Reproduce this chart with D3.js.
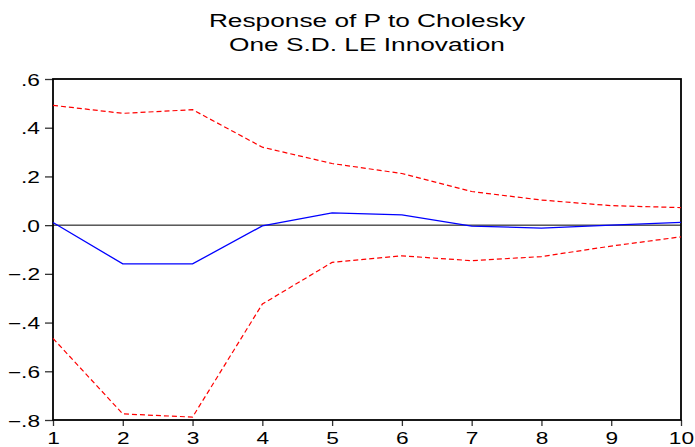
<!DOCTYPE html>
<html>
<head>
<meta charset="utf-8">
<script src="https://cdn.jsdelivr.net/npm/d3@7"></script>
<style>
  body { margin: 0; background: #fff; }
  svg { display: block; font-family: "Liberation Sans", Arial, sans-serif; }
</style>
</head>
<body>
<svg id="chart" width="695" height="447"></svg>
<script>
// data
const periods = [1, 2, 3, 4, 5, 6, 7, 8, 9, 10];
const response = [0.011, -0.159, -0.159, -0.003, 0.050, 0.042, -0.004, -0.012, 0.000, 0.011];
const upperBand = [0.492, 0.459, 0.474, 0.320, 0.253, 0.212, 0.138, 0.103, 0.080, 0.072];
const lowerBand = [-0.465, -0.775, -0.788, -0.324, -0.153, -0.126, -0.146, -0.129, -0.086, -0.048];
const yTicks = [0.6, 0.4, 0.2, 0.0, -0.2, -0.4, -0.6, -0.8];
const titleLines = ["Response of P to Cholesky", "One S.D. LE Innovation"];

const W = 695, H = 447;
const margin = { top: 79, right: 14, bottom: 27, left: 53 };
const stretch = 1.42; // text in the original is widened horizontally

const svg = d3.select("#chart");
const x = d3.scaleLinear().domain([1, 10]).range([margin.left, W - margin.right]);
const y = d3.scaleLinear().domain([-0.8, 0.6]).range([H - margin.bottom, margin.top]);

const fmt = v => d3.format(".1f")(v).replace("0.", ".");

// title
svg.selectAll("text.title")
  .data(titleLines)
  .join("text")
  .attr("class", "title")
  .attr("text-anchor", "middle")
  .attr("transform", (d, i) => `translate(${(margin.left + W - margin.right) / 2},${27 + i * 23.5}) scale(${stretch},1)`)
  .style("font-size", "18.5px")
  .text(d => d);

// zero line
svg.append("line")
  .attr("x1", x(1)).attr("x2", x(10))
  .attr("y1", y(0)).attr("y2", y(0))
  .attr("stroke", "#000").attr("stroke-width", 1);

// axes
const yAxis = svg.append("g")
  .attr("transform", `translate(${margin.left},0)`)
  .call(d3.axisLeft(y).tickValues(yTicks).tickFormat(fmt).tickSize(8).tickPadding(2));
const xAxis = svg.append("g")
  .attr("transform", `translate(0,${H - margin.bottom})`)
  .call(d3.axisBottom(x).tickValues(periods).tickFormat(d3.format("d")).tickSize(6).tickPadding(2));

[yAxis, xAxis].forEach(g => {
  g.select(".domain").remove();
  g.selectAll(".tick line").attr("stroke", "#333").attr("stroke-width", 1.3);
  g.selectAll("text").style("font-size", "16px").attr("fill", "#000");
});
yAxis.selectAll("text")
  .attr("x", null).attr("dy", null)
  .attr("transform", `translate(-13,6) scale(${stretch},1)`);
xAxis.selectAll("text")
  .attr("y", null).attr("dy", null)
  .attr("transform", `translate(0,24) scale(${stretch},1)`);

// frame
svg.append("rect")
  .attr("x", margin.left).attr("y", margin.top)
  .attr("width", W - margin.right - margin.left)
  .attr("height", H - margin.bottom - margin.top)
  .attr("fill", "none").attr("stroke", "#000").attr("stroke-width", 1.8);

const line = d3.line().x((d, i) => x(periods[i])).y(d => y(d));

svg.append("path").datum(upperBand)
  .attr("d", line).attr("fill", "none")
  .attr("stroke", "#ff0000").attr("stroke-width", 1.2).attr("stroke-dasharray", "5,3");
svg.append("path").datum(lowerBand)
  .attr("d", line).attr("fill", "none")
  .attr("stroke", "#ff0000").attr("stroke-width", 1.2).attr("stroke-dasharray", "5,3");
svg.append("path").datum(response)
  .attr("d", line).attr("fill", "none")
  .attr("stroke", "#0000ff").attr("stroke-width", 1.3);
</script>
</body>
</html>
